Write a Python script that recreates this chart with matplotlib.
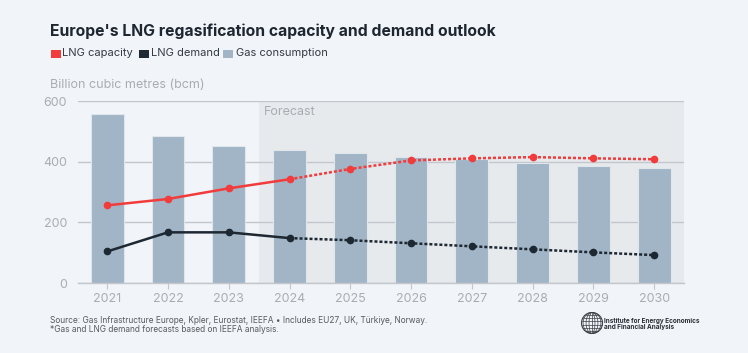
import matplotlib
matplotlib.use("Agg")
import matplotlib.pyplot as plt
from matplotlib.patches import Rectangle
import numpy as np

plt.rcParams['font.family'] = ['Inter', 'DejaVu Sans']

years = ["2021", "2022", "2023", "2024", "2025", "2026", "2027", "2028", "2029", "2030"]
gas_consumption = [557, 486, 452, 437, 427, 416, 408, 396, 387, 378]
lng_capacity = [256, 277, 312, 342, 376, 404, 411, 415, 411, 408]
lng_demand = [104, 167, 167, 148, 141, 131, 121, 111, 101, 92]
forecast_start = 3  # index of 2024

BG = "#f1f4f9"
SHADE = "#e7eaed"
BAR = "#a1b5c6"
RED = "#f23b3b"
DARK = "#1e2833"
GRID = "#c3c6ca"
TICK = "#a9adb2"

W, H = 748, 353
fig = plt.figure(figsize=(W/100, H/100), dpi=100, facecolor=BG)
ax = fig.add_axes([78/W, 1-283/H, (684-78)/W, (283-101)/H])
ax.set_facecolor(BG)

x = np.arange(len(years))
ax.set_xlim(-0.48, len(years) - 0.51)
ax.set_ylim(0, 600)

ax.axvspan(forecast_start - 0.5, len(years) - 0.51, color=SHADE, zorder=0, lw=0)
ax.text(forecast_start - 0.43, 582, "Forecast", color=TICK, fontsize=9, va="top", ha="left", zorder=1)

ax.set_yticks([0, 200, 400, 600])
ax.yaxis.grid(True, color=GRID, lw=1, zorder=1)
ax.set_axisbelow(True)

ax.bar(x, gas_consumption, width=0.54, color=BAR, edgecolor="#dfe6ec", lw=0.8, zorder=2)

hist = slice(0, forecast_start + 1)
fc = slice(forecast_start, len(years))
ax.plot(x[hist], lng_capacity[hist], color=RED, lw=1.8, zorder=3)
ax.plot(x[fc], lng_capacity[fc], color=RED, lw=1.8, ls=(0, (1.2, 0.8)), zorder=3)
ax.plot(x, lng_capacity, ls="none", marker="o", ms=4.5, color=RED, zorder=4)
ax.plot(x[hist], lng_demand[hist], color=DARK, lw=1.8, zorder=3)
ax.plot(x[fc], lng_demand[fc], color=DARK, lw=1.8, ls=(0, (1.2, 0.8)), zorder=3)
ax.plot(x, lng_demand, ls="none", marker="o", ms=4.5, color=DARK, zorder=4)

ax.set_xticks(x)
ax.set_xticklabels(years)
for s in ["left", "right", "top"]:
    ax.spines[s].set_visible(False)
ax.spines["bottom"].set_color(GRID)
ax.spines["bottom"].set_linewidth(1)
ax.tick_params(axis="x", colors=TICK, labelsize=9, length=4, color=GRID, pad=3)
ax.tick_params(axis="y", colors=TICK, labelsize=9, length=0, pad=8)

# Title and legend
fig.text(50/W, 1-36/H, "Europe's LNG regasification capacity and demand outlook",
         fontsize=11.3, fontweight="bold", color="#1e2630", ha="left", va="baseline")
items = [("LNG capacity", RED, 62.5), ("LNG demand", DARK, 151), ("Gas consumption", BAR, 235.5)]
for label, col, tx in items:
    fig.patches.append(Rectangle(((tx - 12)/W, 1-57.5/H), 10/W, 8/H,
                                 transform=fig.transFigure, color=col, lw=0, figure=fig))
    fig.text(tx/W, 1-52.5/H, label, fontsize=8.0, color="#333a42", ha="left", va="center")

fig.text(50/W, 1-85/H, "Billion cubic metres (bcm)", fontsize=9, color=TICK, ha="left", va="center")

# Footer
fig.text(50/W, 1-320.7/H, "Source: Gas Infrastructure Europe, Kpler, Eurostat, IEEFA \u2022 Includes EU27, UK, T\u00fcrkiye, Norway.",
         fontsize=6.0, color="#555b62", ha="left", va="center")
fig.text(50/W, 1-330/H, "*Gas and LNG demand forecasts based on IEEFA analysis.",
         fontsize=6.0, color="#555b62", ha="left", va="center")

# Logo globe
lax = fig.add_axes([(592-11)/W, 1-(323+11)/H, 22/W, 22/H])
lax.set_xlim(-1.05, 1.05)
lax.set_ylim(-1.05, 1.05)
lax.set_aspect("equal")
lax.axis("off")
th = np.linspace(0, 2*np.pi, 100)
lax.plot(np.cos(th), np.sin(th), color="#3a3f45", lw=0.8)
for k in np.linspace(-0.85, 0.85, 7):
    t = np.linspace(-np.pi/2, np.pi/2, 40)
    lax.plot(k*np.cos(t), np.sin(t), color="#3a3f45", lw=0.5)
for yy in np.linspace(-0.8, 0.8, 6):
    xx = np.sqrt(1 - yy**2)
    lax.plot([-xx, xx], [yy, yy], color="#3a3f45", lw=0.5)

fig.text(604/W, 1-320.7/H, "Institute for Energy Economics", fontsize=4.6, fontweight="bold",
         color="#2a2f35", ha="left", va="center")
fig.text(604/W, 1-327.5/H, "and Financial Analysis", fontsize=4.6, fontweight="bold",
         color="#2a2f35", ha="left", va="center")

fig.savefig("out.png", dpi=100, facecolor=BG)
